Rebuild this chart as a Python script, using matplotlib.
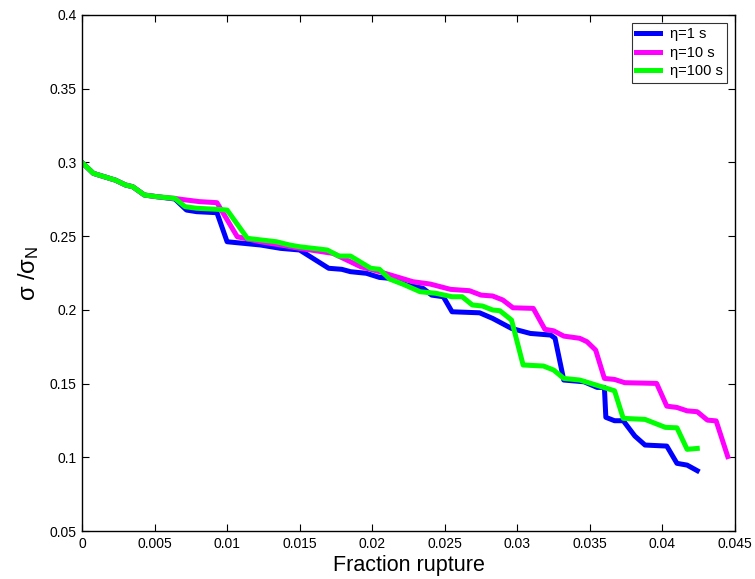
"""Normalised stress vs fraction of ruptured contacts for three viscosities."""
import matplotlib
matplotlib.use("Agg")
import matplotlib.pyplot as plt
from matplotlib.ticker import FuncFormatter

plt.rcParams["font.family"] = ["Liberation Sans", "DejaVu Sans"]
plt.rcParams["mathtext.fontset"] = "custom"
plt.rcParams["mathtext.rm"] = "Liberation Sans"
plt.rcParams["mathtext.it"] = "Liberation Sans"

# eta = 1 s
x_eta1 = [0, 0.00078, 0.0019, 0.0023, 0.0030, 0.0035, 0.0043, 0.0052, 0.0064, 0.0072,
          0.0079, 0.0093, 0.0100, 0.0123, 0.0137, 0.0150, 0.0170, 0.0179, 0.0185, 0.0196,
          0.0205, 0.0212, 0.0224, 0.0235, 0.0241, 0.0249, 0.0255, 0.0274, 0.0283, 0.0296,
          0.0309, 0.0323, 0.0326, 0.0332, 0.0346, 0.0355, 0.0360, 0.0361, 0.0367, 0.0373,
          0.0381, 0.0388, 0.0403, 0.0410, 0.0417, 0.0424]
y_eta1 = [0.300, 0.2926, 0.2892, 0.2880, 0.2847, 0.2835, 0.2779, 0.2767, 0.2752, 0.2677,
          0.2666, 0.2659, 0.2462, 0.2440, 0.2417, 0.2406, 0.2282, 0.2275, 0.2259, 0.2248,
          0.2220, 0.2214, 0.2168, 0.2146, 0.2100, 0.2089, 0.1987, 0.1980, 0.1942, 0.1874,
          0.1840, 0.1829, 0.1807, 0.1524, 0.1512, 0.1474, 0.1474, 0.1271, 0.1248, 0.1248,
          0.1144, 0.1083, 0.1076, 0.0959, 0.0947, 0.0909]

# eta = 10 s
x_eta10 = [0, 0.00078, 0.0019, 0.0023, 0.0030, 0.0035, 0.0043, 0.0052, 0.0064, 0.0068,
           0.0081, 0.0093, 0.0107, 0.0123, 0.0137, 0.0150, 0.0173, 0.0192, 0.0205, 0.0228,
           0.0240, 0.0254, 0.0267, 0.0275, 0.0283, 0.0290, 0.0297, 0.0311, 0.0319, 0.0325,
           0.0332, 0.0343, 0.0348, 0.0354, 0.0360, 0.0367, 0.0374, 0.0396, 0.0403, 0.0410,
           0.0417, 0.0424, 0.0431, 0.0437, 0.0445]
y_eta10 = [0.300, 0.2926, 0.2892, 0.2880, 0.2847, 0.2835, 0.2779, 0.2767, 0.2756, 0.2750,
           0.2734, 0.2727, 0.2496, 0.2462, 0.2440, 0.2417, 0.2383, 0.2293, 0.2259, 0.2191,
           0.2175, 0.2139, 0.2130, 0.2100, 0.2094, 0.2067, 0.2014, 0.2010, 0.1868, 0.1858,
           0.1822, 0.1807, 0.1784, 0.1727, 0.1535, 0.1528, 0.1506, 0.1501, 0.1347, 0.1338,
           0.1315, 0.1309, 0.1252, 0.1247, 0.1005]

# eta = 100 s
x_eta100 = [0, 0.00078, 0.0019, 0.0023, 0.0030, 0.0035, 0.0043, 0.0052, 0.0064, 0.0071,
            0.0079, 0.0093, 0.0100, 0.0114, 0.0134, 0.0143, 0.0150, 0.0169, 0.0177, 0.0185,
            0.0199, 0.0205, 0.0212, 0.0221, 0.0233, 0.0244, 0.0255, 0.0262, 0.0269, 0.0276,
            0.0283, 0.0288, 0.0296, 0.0304, 0.0318, 0.0325, 0.0332, 0.0343, 0.0352, 0.0367,
            0.0373, 0.0388, 0.0402, 0.0410, 0.0417, 0.0424]
y_eta100 = [0.300, 0.2926, 0.2892, 0.2880, 0.2847, 0.2835, 0.2779, 0.2767, 0.2756, 0.2700,
            0.2689, 0.2682, 0.2677, 0.2485, 0.2462, 0.2440, 0.2428, 0.2406, 0.2365, 0.2365,
            0.2282, 0.2275, 0.2209, 0.2175, 0.2123, 0.2112, 0.2089, 0.2089, 0.2033, 0.2026,
            0.1999, 0.1994, 0.1931, 0.1626, 0.1619, 0.1592, 0.1535, 0.1524, 0.1497, 0.1451,
            0.1264, 0.1257, 0.1203, 0.1200, 0.1054, 0.1060]

x_ticks = [0, 0.005, 0.01, 0.015, 0.02, 0.025, 0.03, 0.035, 0.04, 0.045]
y_ticks = [0.05, 0.1, 0.15, 0.2, 0.25, 0.3, 0.35, 0.4]

fig = plt.figure(figsize=(7.55, 5.79), dpi=100)
ax = fig.add_axes([0.1086, 0.0829, 0.8649, 0.8912])

ax.plot(x_eta1, y_eta1, color="#0000ff", linewidth=3.6, label="η=1 s")
ax.plot(x_eta10, y_eta10, color="#ff00ff", linewidth=3.6, label="η=10 s")
ax.plot(x_eta100, y_eta100, color="#00ff00", linewidth=3.6, label="η=100 s")

ax.set_xlim(0, 0.045)
ax.set_ylim(0.05, 0.4)
ax.set_xticks(x_ticks)
ax.set_yticks(y_ticks)
fmt = FuncFormatter(lambda v, p: "%g" % round(v, 4))
ax.xaxis.set_major_formatter(fmt)
ax.yaxis.set_major_formatter(fmt)
ax.tick_params(direction="in", top=True, right=True, length=5, width=0.8,
               labelsize=10, pad=4)
for s in ax.spines.values():
    s.set_linewidth(1.0)

ax.set_xlabel("Fraction rupture", fontsize=15.5, labelpad=3)
ax.set_ylabel(r"σ /σ$_{\rm N}$", fontsize=17, labelpad=6)

leg = ax.legend(loc="upper right", fontsize=10.5, handlelength=1.6, handletextpad=0.7,
                borderpad=0.3, labelspacing=0.3, fancybox=False,
                edgecolor="black", borderaxespad=0.55)
leg.get_frame().set_linewidth(0.8)

fig.savefig("out.png", dpi=100)
plt.close(fig)
